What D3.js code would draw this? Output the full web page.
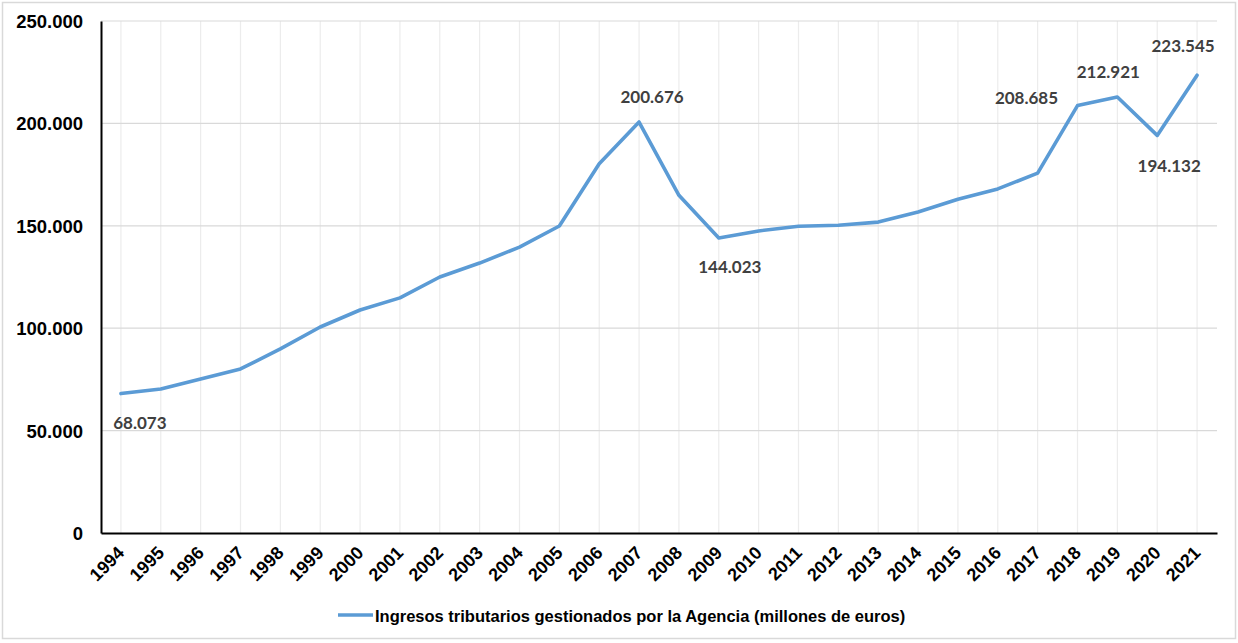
<!DOCTYPE html>
<html><head><meta charset="utf-8">
<script src="https://cdn.jsdelivr.net/npm/d3@7"></script>
<style>html,body{margin:0;padding:0;background:#fff;}svg{display:block;}</style>
</head><body>
<script>
const years = ["1994","1995","1996","1997","1998","1999","2000","2001","2002","2003","2004","2005","2006","2007","2008","2009","2010","2011","2012","2013","2014","2015","2016","2017","2018","2019","2020","2021"];
const ingresos = [68073,70300,75200,80100,89900,100600,108900,114800,125000,131800,139600,149900,180300,200676,164900,144023,147500,149800,150300,151800,156700,163000,168000,175700,208685,212921,194132,223545];
const labeledYears = ["1994","2007","2009","2018","2019","2020","2021"];
const yTicks = [0,50000,100000,150000,200000,250000];
const seriesName = "Ingresos tributarios gestionados por la Agencia (millones de euros)";

// label placement (style, not data)
const labelOffsets = {"1994":[19,35],"2007":[13,-19],"2009":[11,35],"2018":[-51,-2],"2019":[-9,-19],"2020":[12,37],"2021":[-14,-23]};

const W=1238,H=643;
const m={left:101,right:1217,top:21,bottom:533};
const svg=d3.select("body").append("svg").attr("width",W).attr("height",H);
svg.append("rect").attr("x",2.5).attr("y",2.5).attr("width",1233).attr("height",636).attr("fill","#fff").attr("stroke","#d9d9d9").attr("stroke-width",1.5);

const x=d3.scalePoint().domain(years).range([m.left,m.right]).padding(0.5);
const y=d3.scaleLinear().domain([0,250000]).range([m.bottom,m.top]);
const fmt=v=>d3.format(",")(v).replace(/,/g,".");

// vertical gridlines
svg.append("g").selectAll("line").data(years).join("line")
 .attr("x1",d=>x(d)).attr("x2",d=>x(d)).attr("y1",m.top).attr("y2",m.bottom)
 .attr("stroke","#ececec").attr("stroke-width",1.2);
// horizontal gridlines
svg.append("g").selectAll("line").data(yTicks.filter(t=>t>0)).join("line")
 .attr("x1",m.left).attr("x2",m.right).attr("y1",d=>y(d)).attr("y2",d=>y(d))
 .attr("stroke","#d9d9d9").attr("stroke-width",1.2);

// y axis
const ya=svg.append("g").attr("transform",`translate(${m.left},0)`)
 .call(d3.axisLeft(y).tickValues(yTicks).tickSize(0).tickPadding(18).tickFormat(fmt));
ya.select(".domain").attr("stroke","#000").attr("stroke-width",2);
ya.selectAll("text").attr("font-family","Liberation Sans, Arial, sans-serif").attr("font-weight","bold").attr("font-size","18.5px").attr("fill","#000").attr("dy","0.35em");

// x axis
const xa=svg.append("g").attr("transform",`translate(0,${m.bottom})`)
 .call(d3.axisBottom(x).tickSize(0).tickPadding(0));
xa.select(".domain").attr("stroke","#000").attr("stroke-width",2.2);
xa.selectAll("text").attr("font-family","Liberation Sans, Arial, sans-serif").attr("font-weight","bold").attr("font-size","18px").attr("fill","#000")
 .attr("text-anchor","end").attr("dy",null)
 .attr("transform","translate(4,21) rotate(-45)");

// line
const data=years.map((yr,i)=>({yr,v:ingresos[i]}));
svg.append("path").datum(data)
 .attr("fill","none").attr("stroke","#5b9bd5").attr("stroke-width",3.6).attr("stroke-linejoin","round").attr("stroke-linecap","round")
 .attr("d",d3.line().x(d=>x(d.yr)).y(d=>y(d.v)));

// labels
svg.append("g").selectAll("text").data(data.filter(d=>labeledYears.includes(d.yr))).join("text")
 .attr("x",d=>x(d.yr)+labelOffsets[d.yr][0]).attr("y",d=>y(d.v)+labelOffsets[d.yr][1])
 .attr("text-anchor","middle").attr("font-family","Lato, Open Sans, sans-serif").attr("font-weight","bold").attr("font-size","17px").attr("fill","#404040")
 .text(d=>fmt(d.v));

// legend
const lg=svg.append("g");
lg.append("line").attr("x1",338).attr("x2",373).attr("y1",615).attr("y2",615).attr("stroke","#5b9bd5").attr("stroke-width",3.6);
lg.append("text").attr("x",375).attr("y",621.5).attr("font-family","Liberation Sans, Arial, sans-serif").attr("font-weight","bold").attr("font-size","16.5px").attr("fill","#000").text(seriesName);
</script>
</body></html>
